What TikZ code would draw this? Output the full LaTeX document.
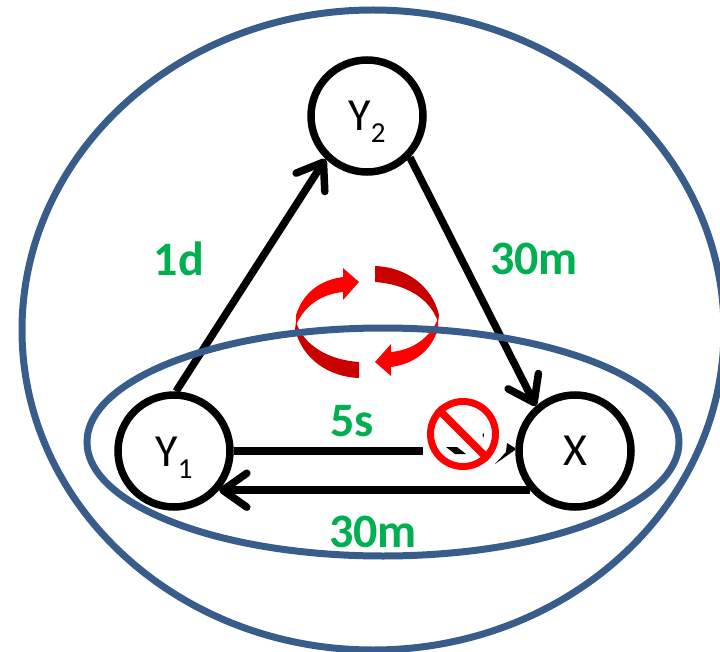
\documentclass[tikz,border=0pt]{standalone}
\usepackage{fontspec}
\setmainfont{Carlito}
\usetikzlibrary{arrows.meta}
\definecolor{ringblue}{HTML}{385D8A}
\definecolor{labelgreen}{HTML}{00B050}
\definecolor{darkred}{HTML}{C80000}
\newcommand{\ylabel}[1]{\raisebox{-15pt}[0pt][0pt]{Y\raisebox{-12pt}{\fontsize{29}{30}\selectfont #1}}}
\tikzset{
  state/.style={circle,draw,line width=7.5pt,fill=white,minimum size=112pt,inner sep=0pt,font=\fontsize{46}{48}\selectfont},
  edge/.style={line width=7.5pt,-{Straight Barb[length=24pt,width=34pt,line cap=round,round]}},
  rate/.style={text=labelgreen,font=\fontsize{48}{50}\selectfont\bfseries},
  ring/.style={draw=ringblue,line width=7pt},
}
\begin{document}
\begin{tikzpicture}[x=1pt,y=-1pt]
    \useasboundingbox (0,0) rectangle (720,652);
    % kreisende Pfeile
    \foreach \rot in {0,180} {
      \begin{scope}[rotate around={\rot:(367,322)}]
        \fill[darkred] (375,266) .. controls (405,267) and (432,285) .. (439,315)
          -- (438,322) .. controls (430,298) and (405,284) .. (375,282) -- cycle;
        \fill[red] (296,325) -- (296,315) .. controls (303,293) and (320,280) .. (343,277)
          -- (343,268) -- (359,282) -- (343,300) -- (343,292)
          .. controls (322,294) and (305,305) .. (296,325) -- cycle;
      \end{scope}
    }
    % Zustaende
    \node[state] (y2) at (367,116) {\ylabel{2}};
    \node[state] (y1) at (174,451) {\ylabel{1}};
    \node[state] (x) at (575,451) {X};
    \coordinate (cut) at (423,451);
    % Uebergaenge
    \draw[edge] (y1.88) -- (y2.226);
    \draw[edge] (y2.-44) -- (x.131);
    \draw[edge] (x.221) -- (y1.-41);
    \draw[line width=7.5pt] (y1.east) -- (cut);
    % Ellipsen
    \draw[ring] (373,330) ellipse [x radius=351,y radius=320];
    \draw[ring] (383,442) ellipse [x radius=296,y radius=114];
    % Verbotszeichen
    \node[circle,draw=red,line width=7pt,fill=white,minimum size=65pt,inner sep=0pt] (sign) at (463,434) {};
    \fill (446,447) -- (457,447) -- (466,454) -- (455,454) -- cycle;
    \fill (483.5,433) -- (484,435) -- (483,438) -- (482.5,435) -- cycle;
    \draw[red,line width=7.5pt] (sign.135) -- (sign.-45);
    \fill (507,443) -- (515,448) -- (515,450) -- (495,464) -- (506,452) -- cycle;
    % Beschriftung
    \node[rate] (lab1d) at (179,259) {1d};
    \node[rate] (lab30a) at (534,259) {30m};
    \node[rate] (lab5s) at (352,421) {5s};
    \node[rate] (lab30b) at (373,532) {30m};
\end{tikzpicture}
\end{document}
